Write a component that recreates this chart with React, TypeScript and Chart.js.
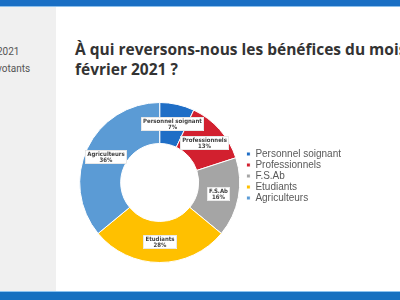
import { useEffect, useRef } from "react";
import { Chart, registerables } from "chart.js";

Chart.register(...registerables);

const categories = ["Personnel soignant", "Professionnels", "F.S.Ab", "Etudiants", "Agriculteurs"];
const values = [7, 13, 16, 28, 36];
const colors = ["#1F6EC6", "#D2202F", "#A5A5A5", "#FFC000", "#5B9BD5"];
const titleLines = ["À qui reversons-nous les bénéfices du mois", "février 2021 ?"];
const sideLines = ["2021", "votants"];

const sliceLabels = {
  id: "sliceLabels",
  afterDatasetsDraw(chart: any) {
    const { ctx } = chart;
    const meta = chart.getDatasetMeta(0);
    ctx.save();
    ctx.font = 'bold 6px "Liberation Sans Narrow", "DejaVu Sans Condensed", "Liberation Sans", Arial, sans-serif';
    ctx.textAlign = "center";
    ctx.textBaseline = "middle";
    meta.data.forEach((arc: any, i: number) => {
      const p = arc.tooltipPosition(false);
      const l1 = categories[i];
      const l2 = values[i] + "%";
      const w = Math.ceil(Math.max(ctx.measureText(l1).width, ctx.measureText(l2).width) + 4);
      const h = 14;
      const x = Math.round(p.x - w / 2);
      const y = Math.round(p.y - h / 2);
      ctx.fillStyle = "#ffffff";
      ctx.fillRect(x, y, w, h);
      ctx.strokeStyle = "#d9d9d9";
      ctx.lineWidth = 0.6;
      ctx.strokeRect(x + 0.5, y + 0.5, w - 1, h - 1);
      ctx.fillStyle = "#404040";
      ctx.fillText(l1, x + w / 2, y + 4.5);
      ctx.fillText(l2, x + w / 2, y + 10);
    });
    ctx.restore();
  },
};

function DonutChart() {
  const ref = useRef<HTMLCanvasElement>(null);
  useEffect(() => {
    if (!ref.current) return;
    const chart = new Chart(ref.current, {
      type: "doughnut",
      data: {
        labels: categories,
        datasets: [
          {
            data: values,
            backgroundColor: colors,
            borderColor: "#ffffff",
            borderWidth: 1,
            cutout: 39,
          } as any,
        ],
      },
      options: {
        responsive: false,
        animation: false,
        layout: { padding: 0 },
        plugins: {
          tooltip: { enabled: false },
          legend: {
            display: true,
            position: "right",
            align: "start",
            title: {
              display: true,
              text: "",
              font: { size: 10, lineHeight: 1.2 },
              padding: { top: 34, bottom: 0 },
            },
            labels: {
              boxWidth: 4,
              boxHeight: 4,
              padding: 1,
              color: "#595959",
              font: { size: 10, family: '"Liberation Sans", Arial, sans-serif' },
            },
          },
        },
      },
      plugins: [sliceLabels],
    });
    return () => chart.destroy();
  }, []);
  return (
    <canvas
      ref={ref}
      width={277}
      height={161}
      style={{ position: "absolute", left: 74, top: 102, width: 277, height: 161 }}
    />
  );
}

export default function App() {
  return (
    <div
      style={{
        position: "fixed",
        left: 0,
        top: 0,
        width: 400,
        height: 300,
        overflow: "hidden",
        background: "#ffffff",
        fontFamily: "Roboto, sans-serif",
      }}
    >
      <div style={{ position: "absolute", left: 0, top: 0, width: 400, height: 7, background: "#1A6FC4", borderBottom: "1px solid #8CBFEB", boxSizing: "border-box" }} />
      <div style={{ position: "absolute", left: 0, top: 7, width: 56, height: 284, background: "#F0F0F0" }} />
      <div style={{ position: "absolute", left: -3, top: 45, fontSize: 10, color: "#555", lineHeight: "14px", whiteSpace: "nowrap" }}>
        {sideLines[0]}
      </div>
      <div style={{ position: "absolute", left: -3, top: 62, fontSize: 10, color: "#555", lineHeight: "14px", whiteSpace: "nowrap" }}>
        {sideLines[1]}
      </div>
      <div
        style={{
          position: "absolute",
          left: 75,
          top: 39,
          fontFamily: '"Open Sans", sans-serif',
          fontWeight: 700,
          fontSize: 15.5,
          lineHeight: "20px",
          color: "#333333",
          whiteSpace: "nowrap",
        }}
      >
        {titleLines[0]}
        <br />
        {titleLines[1]}
      </div>
      <DonutChart />
      <div style={{ position: "absolute", left: 0, top: 291, width: 400, height: 9, background: "#1670C0", borderTop: "1px solid #8CC3F0", boxSizing: "border-box" }} />
    </div>
  );
}
